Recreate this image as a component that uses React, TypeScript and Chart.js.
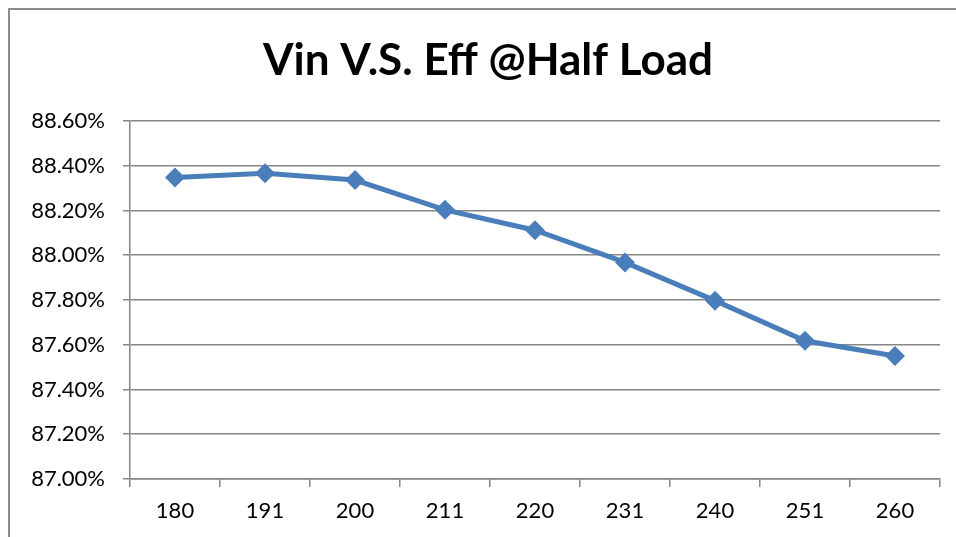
import React, { useEffect, useRef } from "react";
import { Chart, registerables } from "chart.js";

Chart.register(...registerables);

const titleText = "Vin V.S. Eff @Half Load";
const categories = ["180", "191", "200", "211", "220", "231", "240", "251", "260"];
const efficiency = [88.347, 88.367, 88.336, 88.203, 88.112, 87.968, 87.797, 87.618, 87.55];
const yMin = 87.0;
const yMax = 88.6;
const yStep = 0.2;

export default function App() {
  const ref = useRef<HTMLCanvasElement | null>(null);

  useEffect(() => {
    if (!ref.current) return;
    const font = "Lato, 'Open Sans', sans-serif";
    const titlePlugin = {
      id: "offsetTitle",
      afterDraw(chart: any) {
        const ctx = chart.ctx;
        ctx.save();
        ctx.fillStyle = "#000000";
        ctx.font = "bold 44px " + font;
        ctx.textAlign = "center";
        ctx.textBaseline = "middle";
        ctx.fillText(titleText, 488, 61);
        ctx.restore();
      },
    };
    const chart = new Chart(ref.current, {
      type: "line",
      data: {
        labels: categories,
        datasets: [
          {
            data: efficiency,
            borderColor: "#4A7EBB",
            backgroundColor: "#4A7EBB",
            borderWidth: 5,
            pointStyle: "rectRot",
            pointRadius: 10,
            pointBorderWidth: 0,
            pointBackgroundColor: "#4A7EBB",
            tension: 0,
          },
        ],
      },
      options: {
        animation: false,
        responsive: false,
        maintainAspectRatio: false,
        layout: { padding: { left: 0, right: 16, top: 121, bottom: 0 } },
        plugins: {
          legend: { display: false },
          tooltip: { enabled: false },
          title: { display: false },
        },
        scales: {
          x: {
            offset: true,
            grid: {
              offset: true,
              drawOnChartArea: false,
              drawTicks: true,
              tickLength: 8,
              color: "#868686",
              lineWidth: 1.5,
            },
            border: { color: "#868686", width: 1.5 },
            ticks: {
              color: "#000000",
              font: { family: font, size: 22 },
              padding: 11,
              maxRotation: 0,
            },
            afterFit: (axis: any) => {
              axis.height = 58;
            },
          },
          y: {
            min: yMin,
            max: yMax,
            grid: {
              color: "#868686",
              lineWidth: 1.5,
              drawTicks: true,
              tickLength: 7,
            },
            border: { color: "#868686", width: 1.5 },
            ticks: {
              stepSize: yStep,
              color: "#000000",
              font: { family: font, size: 22 },
              padding: 18,
              callback: (v: any) => Number(v).toFixed(2) + "%",
            },
            afterFit: (axis: any) => {
              axis.width = 130;
            },
          },
        },
      },
      plugins: [titlePlugin],
    });
    return () => chart.destroy();
  }, []);

  return (
    <div style={{ position: "fixed", left: 0, top: 0, width: 956, height: 537, background: "#ffffff", overflow: "hidden" }}>
      <div
        style={{
          position: "absolute",
          left: 8,
          top: 8,
          width: 1000,
          height: 600,
          border: "2px solid #8c8c8c",
          boxSizing: "border-box",
        }}
      />
      <canvas ref={ref} width={956} height={537} style={{ position: "absolute", left: 0, top: 0 }} />
    </div>
  );
}
